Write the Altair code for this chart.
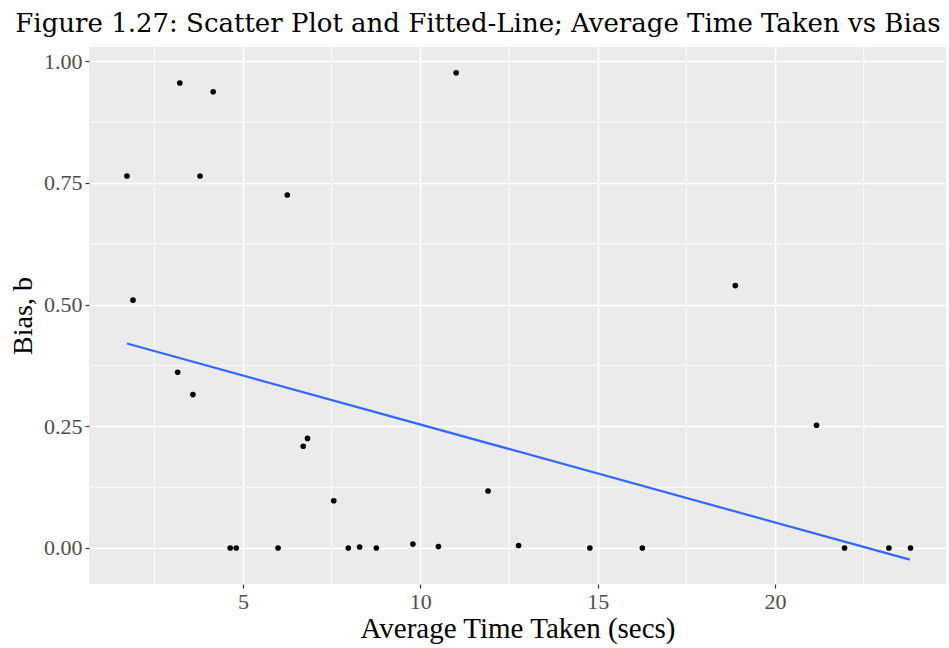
import altair as alt
import pandas as pd

# data
time_taken = [1.73, 1.90, 3.22, 4.16, 3.79, 6.25, 3.16, 3.59, 4.64, 4.81, 5.99,
              6.70, 6.82, 7.56, 7.97, 8.29, 8.76, 9.79, 10.51, 11.91, 12.77,
              14.78, 16.26, 11.01, 18.88, 21.17, 21.96, 23.21, 23.82]
bias = [0.764, 0.509, 0.955, 0.937, 0.764, 0.725, 0.361, 0.315, 0.0, 0.0, 0.0,
        0.209, 0.225, 0.097, 0.0, 0.002, 0.0, 0.008, 0.003, 0.117, 0.005,
        0.0, 0.0, 0.976, 0.539, 0.252, 0.0, 0.0, 0.0]

fit_x = [1.73, 23.80]
fit_y = [0.420, -0.024]

x_major = [5, 10, 15, 20]
x_minor = [2.5, 7.5, 12.5, 17.5, 22.5]
y_major = [0.0, 0.25, 0.5, 0.75, 1.0]
y_minor = [0.125, 0.375, 0.625, 0.875]

pts = pd.DataFrame({"t": time_taken, "b": bias})
fit = pd.DataFrame({"t": fit_x, "b": fit_y})

XDOM = [0.66, 24.82]
YDOM = [-0.074, 1.029]

xs = alt.Scale(domain=XDOM, nice=False, zero=False)
ys = alt.Scale(domain=YDOM, nice=False, zero=False)

LABEL_FONT = "Liberation Serif"

xaxis = alt.Axis(values=x_major, title="Average Time Taken (secs)", grid=True,
                 gridColor="white", gridWidth=1.5, tickColor="#333333",
                 tickSize=4, tickWidth=1.2, domain=False, labelColor="#4D4D4D",
                 labelFont=LABEL_FONT, labelFontSize=22, labelPadding=3,
                 titleFont=LABEL_FONT, titleFontSize=29, titleFontWeight="normal",
                 titleColor="black", titlePadding=2, format="d")
yaxis = alt.Axis(values=y_major, title="Bias, b", grid=True,
                 gridColor="white", gridWidth=1.5, tickColor="#333333",
                 tickSize=4, tickWidth=1.2, domain=False, labelColor="#4D4D4D",
                 labelFont=LABEL_FONT, labelFontSize=22, labelPadding=3,
                 titleFont=LABEL_FONT, titleFontSize=28, titleFontWeight="normal",
                 titleColor="black", titlePadding=6, format=".2f")

xminor_df = pd.DataFrame({"v": x_minor})
yminor_df = pd.DataFrame({"v": y_minor})

vminor = alt.Chart(xminor_df).mark_rule(color="white", strokeWidth=0.8).encode(
    x=alt.X("v:Q", scale=xs, axis=xaxis))
hminor = alt.Chart(yminor_df).mark_rule(color="white", strokeWidth=0.8).encode(
    y=alt.Y("v:Q", scale=ys, axis=yaxis))

points = alt.Chart(pts).mark_circle(color="black", opacity=1, size=32).encode(
    x=alt.X("t:Q", scale=xs, axis=xaxis),
    y=alt.Y("b:Q", scale=ys, axis=yaxis))

line = alt.Chart(fit).mark_line(color="#3366FF", strokeWidth=2.2).encode(
    x=alt.X("t:Q", scale=xs, axis=xaxis),
    y=alt.Y("b:Q", scale=ys, axis=yaxis))

chart = alt.layer(vminor, hminor, line, points).properties(
    width=857, height=537,
    background="white",
    title=alt.TitleParams(
        "Figure 1.27: Scatter Plot and Fitted-Line; Average Time Taken vs Bias",
        font="DejaVu Serif", fontSize=26, fontWeight="normal", color="black",
        anchor="middle", frame="bounds", offset=10),
    padding={"left": 89, "top": 47, "right": 3, "bottom": 64},
    autosize=alt.AutoSizeParams(type="none"),
).configure_view(fill="#EBEBEB", stroke=None)

chart.save("out.html", embed_options={"renderer": "svg", "actions": False})
